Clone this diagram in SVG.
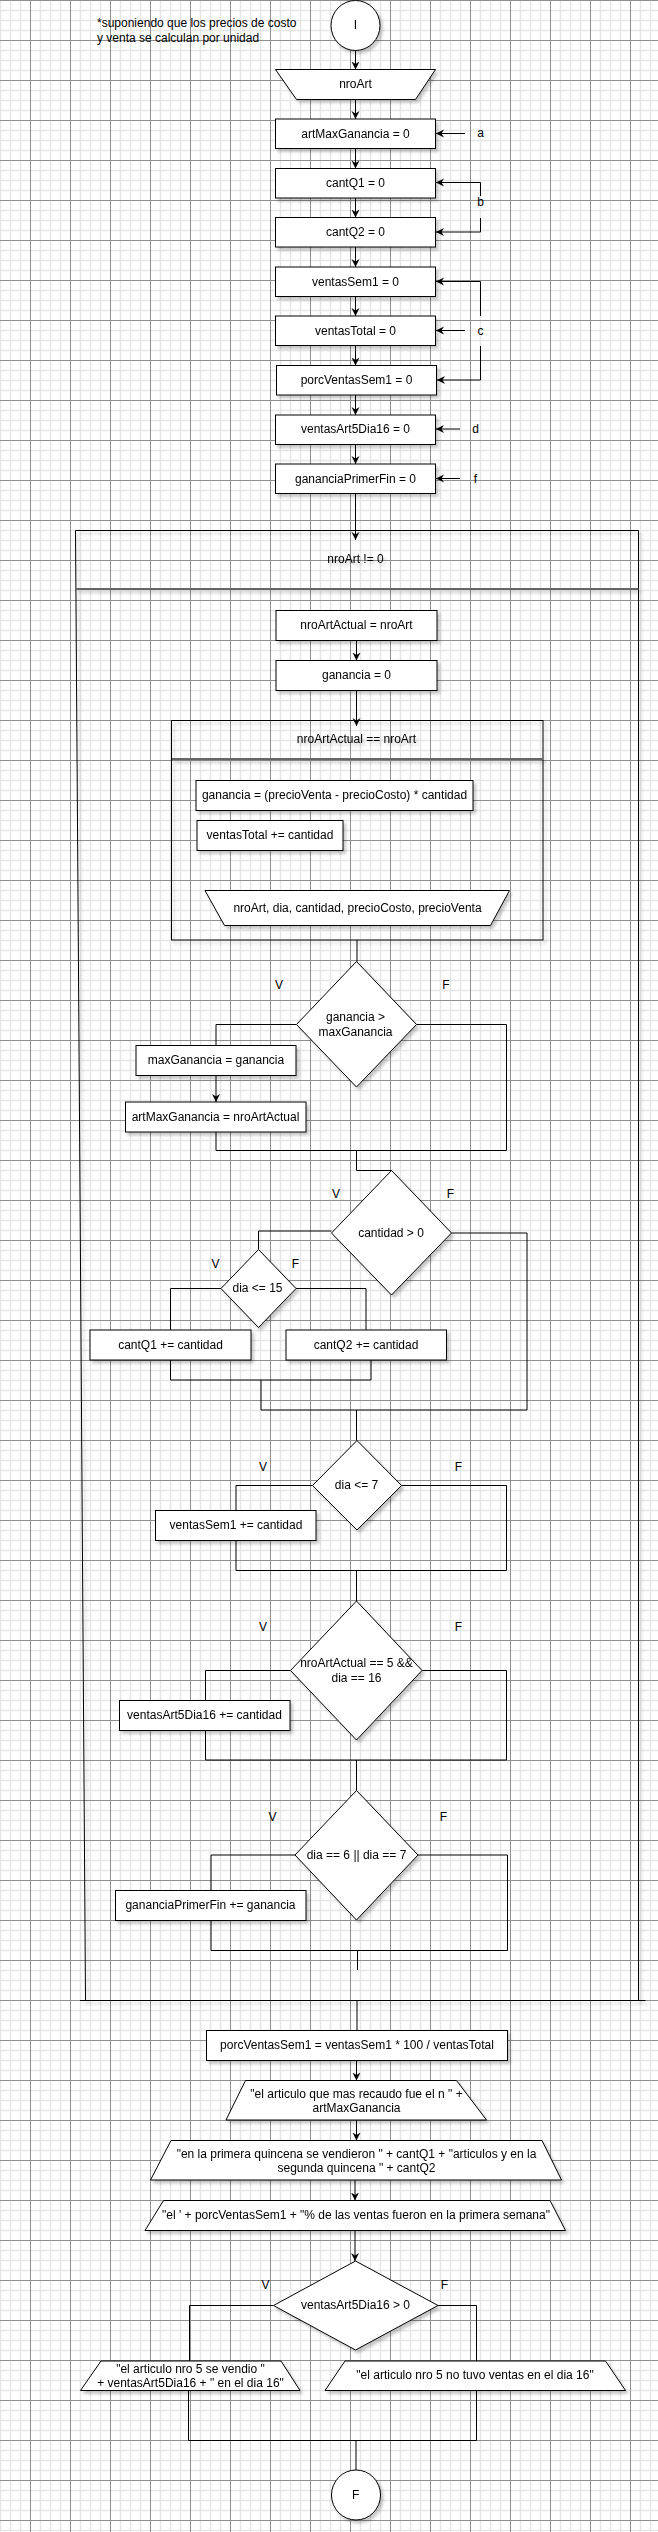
<svg xmlns="http://www.w3.org/2000/svg" width="658" height="2532" viewBox="0 0 658 2532">
<style>
text{font-family:"Liberation Sans",Arial,sans-serif;font-size:12px;fill:#000;text-anchor:middle;dominant-baseline:central}
.s{fill:#fff;stroke:#000;stroke-width:1}
.c{fill:none;stroke:#000;stroke-width:1}
.a{fill:none;stroke:#000;stroke-width:1;marker-end:url(#arr)}
.sep{stroke:#666;stroke-width:2}
.n{filter:url(#sh)}
</style>
<defs>
<pattern id="grid" width="40" height="40" x="30" y="0" patternUnits="userSpaceOnUse">
<path d="M10.5 0V40M20.5 0V40M30.5 0V40M0 10.5H40M0 20.5H40M0 30.5H40" stroke="#e6e6e6" stroke-width="1.5" fill="none"/>
<path d="M0.5 0V40M0 0.5H40" stroke="#8f8f8f" stroke-width="1" fill="none"/>
</pattern>
<marker id="arr" markerUnits="userSpaceOnUse" markerWidth="10" markerHeight="10" refX="8" refY="4" orient="auto">
<path d="M0,0 L8,4 L0,8 L2.5,4 z" fill="#000"/>
</marker>
<filter id="sh" x="-20%" y="-20%" width="150%" height="150%">
<feDropShadow dx="2.5" dy="3" stdDeviation="1.8" flood-color="#000" flood-opacity="0.22"/>
</filter>
</defs>
<rect width="658" height="2532" fill="#fff"/>
<rect width="658" height="2532" fill="url(#grid)"/>

<g id="note">
<text x="97" y="23" style="text-anchor:start">*suponiendo que los precios de costo</text>
<text x="97" y="37.5" style="text-anchor:start">y venta se calculan por unidad</text>
</g>

<g id="connectors">
<path class="a" d="M355.5,50 V69.5"/>
<path class="a" d="M355.5,99.5 V119"/>
<path class="a" d="M355.5,148.5 V168.5"/>
<path class="a" d="M355.5,198 V217.5"/>
<path class="a" d="M355.5,247 V267"/>
<path class="a" d="M355.5,296.5 V316"/>
<path class="a" d="M355.5,345.5 V365.5"/>
<path class="a" d="M355.5,395 V415"/>
<path class="a" d="M355.5,444.5 V464"/>
<path class="a" d="M465,133.5 H436"/>
<path class="a" d="M480.5,196 V182.5 H436"/>
<path class="a" d="M480.5,218 V232 H436"/>
<path class="a" d="M480.5,316 V281.5 H436"/>
<path class="a" d="M465,330.5 H436"/>
<path class="a" d="M480.5,346 V380 H437"/>
<path class="a" d="M460,429 H436"/>
<path class="a" d="M460,478.5 H436"/>
<text x="480.5" y="133">a</text>
<text x="480.5" y="202">b</text>
<text x="480.5" y="330.5">c</text>
<text x="475.5" y="429">d</text>
<text x="475.5" y="478.5">f</text>
<path class="a" d="M355.5,494 V540"/>
<path class="a" d="M356.5,640.5 V660.5"/>
<path class="a" d="M356.5,690.5 V726"/>
<path class="c" d="M357,940 V961.5"/>
<path class="c" d="M296.5,1024.5 H216 V1045.5"/>
<path class="a" d="M216,1075.5 V1102"/>
<path class="c" d="M216,1132 V1150.5 H506.5 V1024.5 H416.5"/>
<path class="c" d="M356.5,1150.5 V1170.5 H391.5"/>
<text x="279" y="984.5">V</text>
<text x="446" y="984.5">F</text>
<path class="c" d="M331.5,1231 H258.5 V1249.5"/>
<path class="c" d="M221,1288.5 H170.5 V1330"/>
<path class="c" d="M296,1288.5 H366 V1330"/>
<path class="c" d="M170.5,1360 V1380 H371 V1360"/>
<path class="c" d="M261,1380 V1410"/>
<path class="c" d="M451.5,1233 H527 V1410 H261"/>
<path class="c" d="M356.5,1410 V1440.5"/>
<text x="336" y="1193.5">V</text>
<text x="450.5" y="1193.5">F</text>
<text x="215.5" y="1263.5">V</text>
<text x="295.5" y="1263.5">F</text>
<path class="c" d="M312.5,1485.5 H236 V1510.5"/>
<path class="c" d="M236,1540.5 V1570.5 H506.5 V1485.5 H401.5"/>
<path class="c" d="M356.5,1570.5 V1601"/>
<text x="263" y="1466.5">V</text>
<text x="458.5" y="1466.5">F</text>
<path class="c" d="M290.5,1670.5 H205.5 V1700.5"/>
<path class="c" d="M205.5,1730.5 V1760 H506.5 V1670.5 H422"/>
<path class="c" d="M356.5,1760 V1790.5"/>
<text x="263" y="1626.5">V</text>
<text x="458.5" y="1626.5">F</text>
<path class="c" d="M295,1855 H211 V1890.5"/>
<path class="c" d="M211,1920.5 V1950.5 H507.5 V1855 H418"/>
<path class="c" d="M357.5,1950.5 V1970"/>
<text x="272.5" y="1816.5">V</text>
<text x="443.5" y="1816.5">F</text>
<path class="c" d="M357,2000.5 V2030.5"/>
<path class="a" d="M356.5,2060.5 V2080.5"/>
<path class="a" d="M356.5,2120 V2140.5"/>
<path class="a" d="M355,2180 V2200.5"/>
<path class="a" d="M355,2230.5 V2261"/>
<path class="c" d="M273.5,2305.5 H189.5 V2361"/>
<path class="c" d="M438,2305.5 H476.5 V2361"/>
<path class="c" d="M188.5,2390.5 V2440.5 H476.5 V2390.5"/>
<path class="c" d="M356,2440.5 V2470"/>
<text x="265.5" y="2285">V</text>
<text x="444.5" y="2285">F</text>
</g>

<g id="start" class="n"><ellipse class="s" cx="355.5" cy="25.5" rx="24.5" ry="25"/><text x="355.5" y="24.5">I</text></g>
<g id="in-nroArt" class="n"><polygon class="s" points="275.5,69.5 435.5,69.5 415.5,99.5 296.5,99.5"/><text x="355.5" y="84">nroArt</text></g>
<g id="init-artMax" class="n"><rect class="s" x="275.5" y="119" width="160" height="29.5"/><text x="355.5" y="133.5">artMaxGanancia = 0</text></g>
<g id="init-cantQ1" class="n"><rect class="s" x="275.5" y="168.5" width="160" height="29.5"/><text x="355.5" y="182.5">cantQ1 = 0</text></g>
<g id="init-cantQ2" class="n"><rect class="s" x="275.5" y="217.5" width="160" height="29.5"/><text x="355.5" y="232">cantQ2 = 0</text></g>
<g id="init-ventasSem1" class="n"><rect class="s" x="275.5" y="267" width="160" height="29.5"/><text x="355.5" y="281.5">ventasSem1 = 0</text></g>
<g id="init-ventasTotal" class="n"><rect class="s" x="275.5" y="316" width="160" height="29.5"/><text x="355.5" y="330.5">ventasTotal = 0</text></g>
<g id="init-porc" class="n"><rect class="s" x="276.5" y="365.5" width="160" height="29.5"/><text x="356.5" y="380">porcVentasSem1 = 0</text></g>
<g id="init-art5" class="n"><rect class="s" x="275.5" y="415" width="160" height="29.5"/><text x="355.5" y="429">ventasArt5Dia16 = 0</text></g>
<g id="init-ganFin" class="n"><rect class="s" x="275.5" y="464" width="160" height="29.5"/><text x="355.5" y="478.5">gananciaPrimerFin = 0</text></g>

<g id="loop" class="n">
<path class="c" d="M75.5,530.5 H638.5 V2000.5 M80,2000.5 H645.5 M75.5,530.5 L85.5,2000.5"/>
<line class="sep" x1="76" y1="589" x2="638.5" y2="589"/>
<text x="355.5" y="559">nroArt != 0</text>
</g>
<g id="set-actual" class="n"><rect class="s" x="276" y="610.5" width="161" height="30"/><text x="356.5" y="625">nroArtActual = nroArt</text></g>
<g id="set-ganancia" class="n"><rect class="s" x="276" y="660.5" width="161" height="30"/><text x="356.5" y="675">ganancia = 0</text></g>
<g id="inner-loop" class="n">
<rect class="c" x="171.5" y="720.5" width="371.5" height="219.5"/>
<line class="sep" x1="172" y1="759" x2="543" y2="759"/>
<text x="356.5" y="739">nroArtActual == nroArt</text>
</g>
<g id="calc-ganancia" class="n"><rect class="s" x="196" y="780.5" width="277" height="30"/><text x="334.5" y="795">ganancia = (precioVenta - precioCosto) * cantidad</text></g>
<g id="acc-ventasTotal" class="n"><rect class="s" x="197" y="820.5" width="146" height="30"/><text x="270" y="835">ventasTotal += cantidad</text></g>
<g id="in-datos" class="n"><polygon class="s" points="205,890.5 509.5,890.5 490.5,925.5 224.5,925.5"/><text x="357.5" y="908">nroArt, dia, cantidad, precioCosto, precioVenta</text></g>

<g id="d-maxGan" class="n"><polygon class="s" points="356.5,961.5 416.5,1024.5 356.5,1087 296.5,1024.5"/><text x="355.5" y="1017">ganancia &gt;</text><text x="355.5" y="1032">maxGanancia</text></g>
<g id="set-maxGan" class="n"><rect class="s" x="136" y="1045.5" width="160" height="30"/><text x="216" y="1060">maxGanancia = ganancia</text></g>
<g id="set-artMax" class="n"><rect class="s" x="125.5" y="1102" width="180.5" height="30"/><text x="215.5" y="1116.5">artMaxGanancia = nroArtActual</text></g>

<g id="d-cantidad" class="n"><polygon class="s" points="391.5,1170.5 451.5,1233 391.5,1295 331.5,1233"/><text x="391" y="1232.5">cantidad &gt; 0</text></g>
<g id="d-dia15" class="n"><polygon class="s" points="258.5,1249.5 296,1288.5 258.5,1327.5 221,1288.5"/><text x="257.5" y="1288">dia &lt;= 15</text></g>
<g id="acc-cantQ1" class="n"><rect class="s" x="90" y="1330" width="161" height="30"/><text x="170.5" y="1345">cantQ1 += cantidad</text></g>
<g id="acc-cantQ2" class="n"><rect class="s" x="286" y="1330" width="160.5" height="30"/><text x="366" y="1345">cantQ2 += cantidad</text></g>

<g id="d-dia7" class="n"><polygon class="s" points="357,1440.5 401.5,1485.5 357,1530 312.5,1485.5"/><text x="356.5" y="1484.5">dia &lt;= 7</text></g>
<g id="acc-ventasSem1" class="n"><rect class="s" x="155.5" y="1510.5" width="160.5" height="30"/><text x="236" y="1525">ventasSem1 += cantidad</text></g>

<g id="d-art5" class="n"><polygon class="s" points="356.5,1601 422,1670.5 356.5,1740 290.5,1670.5"/><text x="356.5" y="1663">nroArtActual == 5 &amp;&amp;</text><text x="356.5" y="1677.5">dia == 16</text></g>
<g id="acc-art5" class="n"><rect class="s" x="119.5" y="1700.5" width="170.5" height="30"/><text x="204.5" y="1715">ventasArt5Dia16 += cantidad</text></g>

<g id="d-finde" class="n"><polygon class="s" points="356.5,1790.5 418,1855 356.5,1920 295,1855"/><text x="356.5" y="1854.5">dia == 6 || dia == 7</text></g>
<g id="acc-ganFin" class="n"><rect class="s" x="115.5" y="1890.5" width="190.5" height="30"/><text x="210.5" y="1905">gananciaPrimerFin += ganancia</text></g>

<g id="calc-porc" class="n"><rect class="s" x="206.5" y="2030.5" width="301" height="30"/><text x="357" y="2045">porcVentasSem1 = ventasSem1 * 100 / ventasTotal</text></g>
<g id="out-1" class="n"><polygon class="s" points="245.5,2080.5 456.5,2080.5 486.5,2120 226,2120"/><text x="356.5" y="2094">"el articulo que mas recaudo fue el n " +</text><text x="356.5" y="2108">artMaxGanancia</text></g>
<g id="out-2" class="n"><polygon class="s" points="171,2140.5 542,2140.5 561.5,2180 150.5,2180"/><text x="356.5" y="2154">"en la primera quincena se vendieron " + cantQ1 + "articulos y en la</text><text x="356.5" y="2167.5">segunda quincena " + cantQ2</text></g>
<g id="out-3" class="n"><polygon class="s" points="163.5,2200.5 550,2200.5 565.5,2230.5 145,2230.5"/><text x="356" y="2215">"el ' + porcVentasSem1 + "% de las ventas fueron en la primera semana"</text></g>
<g id="d-ventasArt5" class="n"><polygon class="s" points="355.5,2261 438,2305.5 355.5,2350 273.5,2305.5"/><text x="355.5" y="2304.5">ventasArt5Dia16 &gt; 0</text></g>
<g id="out-si" class="n"><polygon class="s" points="101,2361 281,2361 300,2390.5 80.5,2390.5"/><text x="190.5" y="2368.5">"el articulo nro 5 se vendio "</text><text x="190.5" y="2382.5">+ ventasArt5Dia16 + " en el dia 16"</text></g>
<g id="out-no" class="n"><polygon class="s" points="345,2361 605.5,2361 625.5,2390.5 325,2390.5"/><text x="475" y="2374.5">"el articulo nro 5 no tuvo ventas en el dia 16"</text></g>
<g id="end" class="n"><ellipse class="s" cx="356" cy="2495" rx="24.5" ry="25"/><text x="355.7" y="2494.5">F</text></g>
</svg>
